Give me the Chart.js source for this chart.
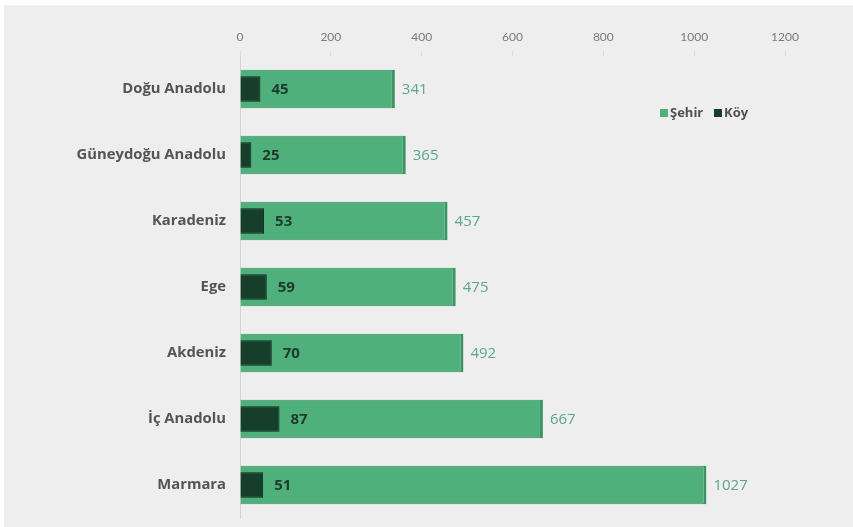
<!DOCTYPE html>
<html>
<head>
    <title>Bölgelere göre Şehir / Köy</title>
    <script src="https://cdn.jsdelivr.net/npm/chart.js@4.4.0/dist/chart.umd.min.js"></script>
    <style>
        html, body {
            margin: 0;
            padding: 0;
            background: #ffffff;
        }
        .chart-box {
            position: relative;
            width: 853px;
            height: 527px;
        }
    </style>
</head>
<body>
    <div class="chart-box">
        <canvas id="chart" width="853" height="527"></canvas>
    </div>

    <script>
        // Data
        const regions = ['Doğu Anadolu', 'Güneydoğu Anadolu', 'Karadeniz', 'Ege', 'Akdeniz', 'İç Anadolu', 'Marmara'];
        const sehirValues = [341, 365, 457, 475, 492, 667, 1027];
        const koyValues = [45, 25, 53, 59, 70, 87, 51];
        const xTicks = [0, 200, 400, 600, 800, 1000, 1200];

        const sehirColor = '#4fb07c';
        const koyColor = '#173d2b';
        const fontName = '"Open Sans", Lato, sans-serif';

        // gray panel behind the chart
        const panelBg = {
            id: 'panelBg',
            beforeDraw(chart) {
                const c = chart.ctx;
                c.save();
                c.fillStyle = '#eeeeee';
                c.fillRect(4, 5, chart.width - 4, chart.height - 5);
                c.restore();
            }
        };

        // value labels next to bars
        const valueLabels = {
            id: 'valueLabels',
            afterDatasetsDraw(chart) {
                const c = chart.ctx;
                c.save();
                c.textBaseline = 'middle';
                c.textAlign = 'left';
                chart.getDatasetMeta(1).data.forEach((bar, i) => {
                    c.font = '15px ' + fontName;
                    c.fillStyle = '#5aa886';
                    c.fillText(sehirValues[i], bar.x + 7, bar.y + 1);
                });
                chart.getDatasetMeta(0).data.forEach((bar, i) => {
                    c.font = 'bold 15px ' + fontName;
                    c.fillStyle = '#1d3b2c';
                    c.fillText(koyValues[i], bar.x + 11, bar.y + 1);
                });
                c.restore();
            }
        };

        // legend in the upper right of the plot
        const sideLegend = {
            id: 'sideLegend',
            afterDraw(chart) {
                const c = chart.ctx;
                const items = [
                    { label: 'Şehir', color: sehirColor, x: 660 },
                    { label: 'Köy', color: koyColor, x: 714 }
                ];
                c.save();
                c.font = 'bold 13px ' + fontName;
                c.textBaseline = 'middle';
                items.forEach(it => {
                    c.fillStyle = it.color;
                    c.fillRect(it.x, 109, 8, 8);
                    c.fillStyle = '#505050';
                    c.fillText(it.label, it.x + 10, 113);
                });
                c.restore();
            }
        };

        new Chart(document.getElementById('chart'), {
            type: 'bar',
            data: {
                labels: regions,
                datasets: [{
                    label: 'Köy',
                    data: koyValues,
                    backgroundColor: koyColor,
                    borderColor: '#0f2a1d',
                    borderWidth: 1,
                    barPercentage: 0.39,
                    categoryPercentage: 1,
                    grouped: false,
                    order: 0
                },
                {
                    label: 'Şehir',
                    data: sehirValues,
                    backgroundColor: sehirColor,
                    borderColor: '#3b9465',
                    borderWidth: { top: 1, bottom: 1, left: 0, right: 3 },
                    barPercentage: 0.58,
                    categoryPercentage: 1,
                    grouped: false,
                    order: 1
                }]
            },
            options: {
                indexAxis: 'y',
                responsive: false,
                animation: false,
                layout: {
                    padding: { top: 20, right: 68, bottom: 9, left: 0 }
                },
                plugins: {
                    legend: { display: false },
                    tooltip: { enabled: false }
                },
                scales: {
                    x: {
                        position: 'top',
                        min: 0,
                        max: 1200,
                        afterBuildTicks(axis) {
                            axis.ticks = xTicks.map(v => ({ value: v }));
                        },
                        afterFit(axis) {
                            axis.height = 36;
                        },
                        grid: {
                            drawOnChartArea: false,
                            tickLength: 5,
                            color: '#dddddd'
                        },
                        border: { display: false },
                        ticks: {
                            color: '#7a7a7a',
                            padding: 7,
                            font: { family: 'Lato, sans-serif', size: 12 },
                            callback: v => String(v)
                        }
                    },
                    y: {
                        afterFit(axis) {
                            axis.width = 240;
                            axis.paddingTop = 0;
                            axis.paddingBottom = 0;
                        },
                        grid: { display: false },
                        border: { display: true, color: '#d2d2d2', width: 1 },
                        ticks: {
                            color: '#545454',
                            padding: 6,
                            font: { family: fontName, size: 14.8, weight: 'bold' }
                        }
                    }
                }
            },
            plugins: [panelBg, valueLabels, sideLegend]
        });
    </script>
</body>
</html>
